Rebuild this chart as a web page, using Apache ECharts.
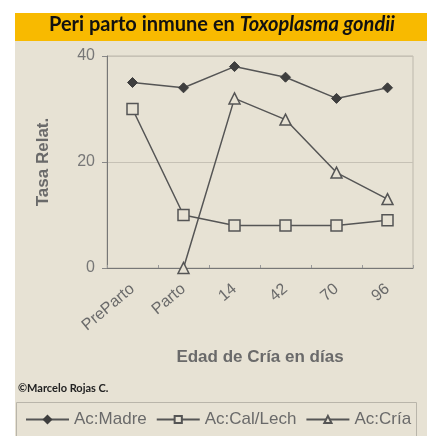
<!DOCTYPE html>
<html>
<head>
<meta charset="utf-8">
<script src="https://cdn.jsdelivr.net/npm/echarts@6/dist/echarts.min.js"></script>
<style>
  html, body { margin: 0; padding: 0; background: #ffffff; }
  #chart { width: 427px; height: 436px; }
</style>
</head>
<body>
<div id="chart"></div>
<script>
// Immune rate around birth (Toxoplasma gondii) by age of the offspring
const categories = ['PreParto', 'Parto', '14', '42', '70', '96'];
const madre   = [35, 34, 38, 36, 32, 34];
const calLech = [30, 10, 8, 8, 8, 9];
const cria    = [null, 0, 32, 28, 18, 13];
const yTicks  = [0, 20, 40];

const ink = '#555555';
const paper = '#e7e2d4';
const textGray = '#6a6a6a';

const chart = echarts.init(document.getElementById('chart'), null, { renderer: 'canvas' });

chart.setOption({
  backgroundColor: '#ffffff',
  animation: false,
  graphic: [
    { type: 'rect', z: -10, shape: { x: 15, y: 13, width: 412, height: 423 }, style: { fill: paper } },
    { type: 'rect', z: -9, shape: { x: 15, y: 13, width: 412, height: 28 }, style: { fill: '#f8ba00' } },
    {
      type: 'text', left: 49, top: 15, z: 10,
      style: {
        rich: {
          n: { fontFamily: 'Lato', fontWeight: 'bold', fontSize: 20, fill: '#111' },
          i: { fontFamily: 'Lato', fontWeight: 'bold', fontStyle: 'italic', fontSize: 20, fill: '#111' }
        },
        text: '{n|Peri parto inmune en }{i|Toxoplasma gondii}'
      }
    },
    {
      type: 'text', left: 18, top: 383, z: 10,
      style: { text: '©Marcelo Rojas C.', fontFamily: 'Lato', fontWeight: 'bold', fontSize: 11, fill: '#222' }
    },
    {
      type: 'rect', z: -5,
      shape: { x: 16.5, y: 402.5, width: 400, height: 40 },
      style: { fill: 'none', stroke: '#b9b5aa', lineWidth: 1 }
    }
  ],
  legend: {
    left: 20, top: 406,
    itemWidth: 43, itemHeight: 9, itemGap: 9,
    textStyle: { fontFamily: 'Liberation Sans', fontSize: 17, color: textGray },
    data: ['Ac:Madre', 'Ac:Cal/Lech', 'Ac:Cría']
  },
  grid: {
    left: 107, right: 14, top: 56, bottom: 168,
    show: true, borderColor: '#bdb8ac', borderWidth: 1, backgroundColor: 'transparent'
  },
  xAxis: {
    type: 'category',
    data: categories,
    boundaryGap: true,
    name: 'Edad de Cría en días',
    nameLocation: 'middle',
    nameGap: 81,
    nameTextStyle: { fontFamily: 'Liberation Sans', fontWeight: 'bold', fontSize: 17, color: textGray },
    axisLine: { lineStyle: { color: '#777', width: 1 } },
    axisTick: { show: true, inside: true, length: 3, lineStyle: { color: '#999' } },
    axisLabel: {
      rotate: 40, margin: 19,
      fontFamily: 'Liberation Sans', fontSize: 16, color: textGray
    }
  },
  yAxis: {
    type: 'value',
    min: yTicks[0], max: yTicks[yTicks.length - 1], interval: yTicks[1] - yTicks[0],
    name: 'Tasa Relat.',
    nameLocation: 'middle',
    nameGap: 55,
    nameTextStyle: { fontFamily: 'Liberation Sans', fontWeight: 'bold', fontSize: 17, color: textGray },
    axisLine: { show: true, lineStyle: { color: '#777', width: 1 } },
    axisTick: { show: true, length: 5, lineStyle: { color: '#888' } },
    axisLabel: { margin: 12, fontFamily: 'Liberation Sans', fontSize: 16, color: '#777' },
    splitLine: { show: true, lineStyle: { color: '#c6c1b5', width: 1 } }
  },
  series: [
    {
      name: 'Ac:Madre', type: 'line', data: madre,
      symbol: 'diamond', symbolSize: 10,
      lineStyle: { color: ink, width: 1.5 },
      itemStyle: { color: '#3e3e3e', borderColor: '#3e3e3e', borderWidth: 1 }
    },
    {
      name: 'Ac:Cal/Lech', type: 'line', data: calLech,
      symbol: 'rect', symbolSize: 11,
      lineStyle: { color: ink, width: 1.5 },
      itemStyle: { color: paper, borderColor: ink, borderWidth: 1.5 }
    },
    {
      name: 'Ac:Cría', type: 'line', data: cria,
      symbol: 'triangle', symbolSize: 11,
      lineStyle: { color: ink, width: 1.5 },
      itemStyle: { color: paper, borderColor: ink, borderWidth: 1.5 }
    }
  ]
});
</script>
</body>
</html>
